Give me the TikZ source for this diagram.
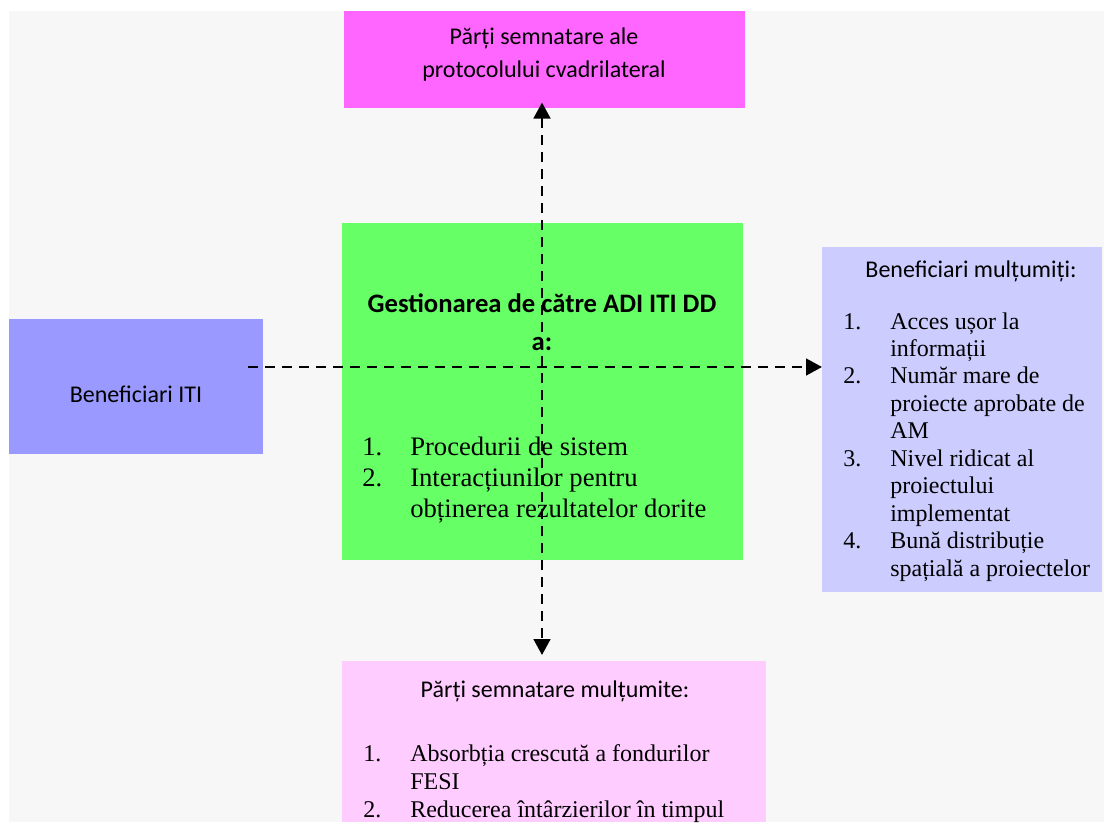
\documentclass[tikz,border=0pt]{standalone}
\usepackage{fontspec}
\setmainfont{Liberation Serif}
\setsansfont{Carlito}
\usetikzlibrary{arrows.meta,positioning}

\definecolor{fundal}{HTML}{F7F7F7}
\definecolor{roz}{HTML}{FF66FF}
\definecolor{verde}{HTML}{66FF66}
\definecolor{albastru}{HTML}{9999FF}
\definecolor{lila}{HTML}{CCCCFF}
\definecolor{rozpal}{HTML}{FFCCFF}

\begin{document}
\begin{tikzpicture}[
    x=0.75pt, y=-0.75pt,
    caseta/.style={
        rectangle, inner sep=0pt, anchor=north west, draw=none
    },
    titlu/.style={
        anchor=base, inner sep=0pt, align=center,
        font=\sffamily\fontsize{18}{24.75}\selectfont
    },
    lista/.style={
        anchor=base west, inner sep=0pt,
        font=\rmfamily\fontsize{18}{20.6}\selectfont
    },
    legatura/.style={
        line width=2pt, dash pattern=on 7.5pt off 5.25pt,
        -{Triangle[length=12pt,width=12.5pt]}
    }
]
\useasboundingbox (0,0) rectangle (1104,822);
\fill[fundal] (9,11) rectangle (1104,822);

% Casete
\node[caseta, fill=roz, minimum width=300.75pt, minimum height=72.75pt] (sus) at (344,11) {};
\node[caseta, fill=verde, minimum width=300.75pt, minimum height=252.75pt] (centru) at (342,223) {};
\node[caseta, fill=albastru, minimum width=190.5pt, minimum height=101.25pt] (stanga) at (9,319) {};
\node[caseta, fill=lila, minimum width=210pt, minimum height=258.75pt] (dreapta) at (822,247) {};
\node[caseta, fill=rozpal, minimum width=318pt, minimum height=120.75pt] (jos) at (342,661) {};

% Texte
\node[titlu] (sus-text) at (544,44)
    {\begin{tabular}[t]{@{}c@{}}Părți semnatare ale\\protocolului cvadrilateral\end{tabular}};
\node[titlu, font=\sffamily\bfseries\fontsize{20}{28.5}\selectfont] (centru-titlu) at (542,312)
    {\begin{tabular}[t]{@{}c@{}}Gestionarea de către ADI ITI DD\\a:\end{tabular}};
\node[lista, font=\rmfamily\fontsize{20}{23.25}\selectfont] (centru-lista) at (362,455)
    {\begin{tabular}[t]{@{}p{36pt}@{}l@{}}
     1. & Procedurii de sistem\\
     2. & Interacțiunilor pentru\\
        & obținerea rezultatelor dorite
     \end{tabular}};
\node[titlu] (stanga-text) at (136,402) {Beneficiari ITI};
\node[titlu] (dreapta-titlu) at (971,277) {Beneficiari mulțumiți:};
\node[lista] (dreapta-lista) at (843,329)
    {\begin{tabular}[t]{@{}p{35.25pt}@{}l@{}}
     1. & Acces ușor la\\
        & informații\\
     2. & Număr mare de\\
        & proiecte aprobate de\\
        & AM\\
     3. & Nivel ridicat al\\
        & proiectului\\
        & implementat\\
     4. & Bună distribuție\\
        & spațială a proiectelor
     \end{tabular}};
\node[titlu] (jos-titlu) at (555,697) {Părți semnatare mulțumite:};
\node[lista, font=\rmfamily\fontsize{18}{21}\selectfont] (jos-lista) at (363,761)
    {\begin{tabular}[t]{@{}p{35.25pt}@{}l@{}}
     1. & Absorbția crescută a fondurilor\\
        & FESI\\
     2. & Reducerea întârzierilor în timpul
     \end{tabular}};

% Legaturi
\coordinate (ax-v) at (542,0);
\coordinate (start-h) at (248,367);
\draw[legatura, {Triangle[length=12pt,width=12.5pt]}-{Triangle[length=12pt,width=12.5pt]}]
    ([yshift=4.5pt]sus.south -| ax-v) -- ([yshift=4.5pt]jos.north -| ax-v);
\draw[legatura] (start-h) -- (dreapta.west |- start-h);

\end{tikzpicture}
\end{document}
